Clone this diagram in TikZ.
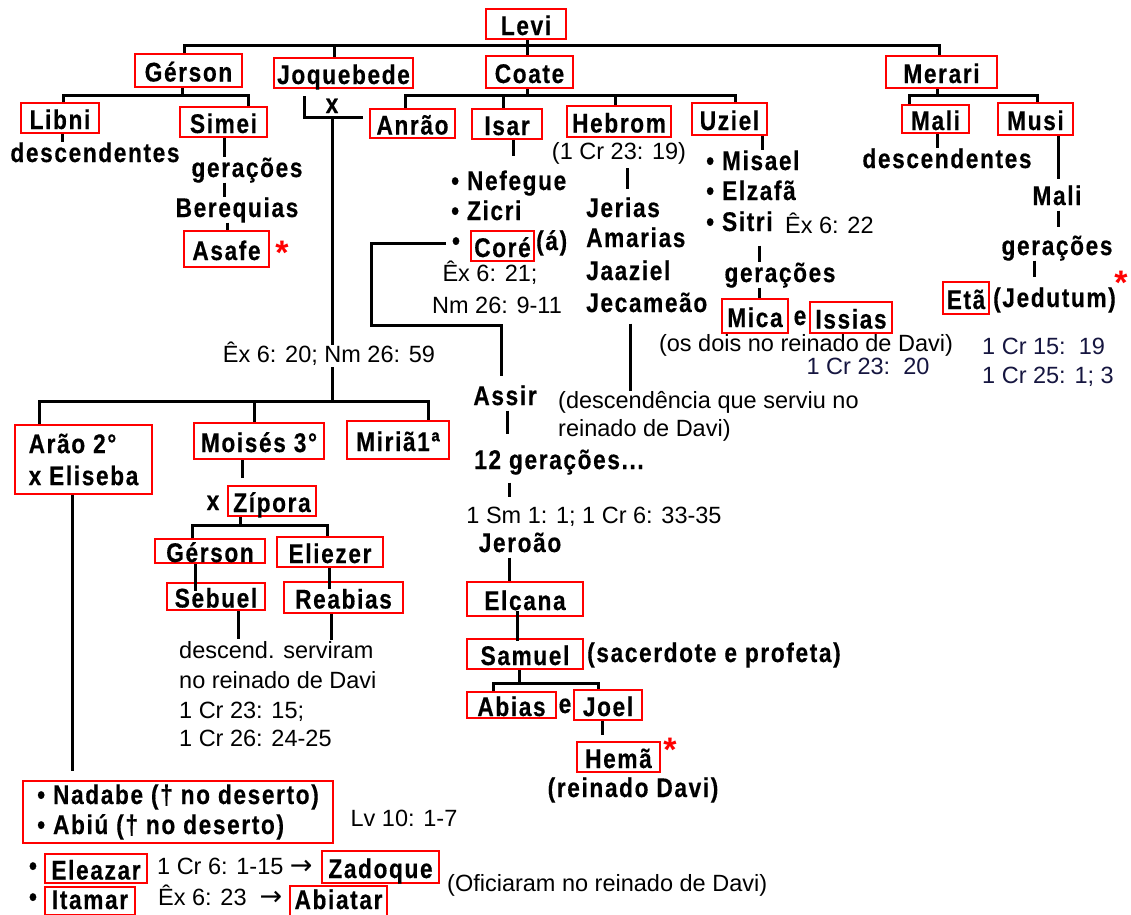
\documentclass[tikz,border=0pt]{standalone}
\usepackage{fontspec}
\newfontfamily\bfnt{Liberation Sans}[FakeStretch=0.84,LetterSpace=6,BoldFeatures={FakeBold=0.4}]
\newfontfamily\rfnt{Liberation Sans}
\newfontfamily\afnt{DejaVu Sans}
\newcommand\myB{\bfnt\bfseries\fontsize{27}{30}\selectfont}
\newcommand\myBb{\bfnt\bfseries\fontsize{27}{32}\selectfont}
\newcommand\myR{\rfnt\fontsize{23.5}{28}\selectfont}
\newcommand\myA{\rfnt\bfseries\fontsize{34}{34}\selectfont}
\newcommand\arr{{\afnt\fontsize{27}{27}\selectfont →}}
\definecolor{mynavy}{RGB}{22,22,64}
\tikzset{
  bxm/.style 2 args={draw=red,line width=1.6pt,inner sep=0pt,font=\myB,minimum width=#1,minimum height=#2},
  bx/.style 2 args={bxm={#1}{#2},text height=22pt,text depth=0pt},
  bt/.style={inner sep=0pt,font=\myB,text height=19.5pt,text depth=5.5pt},
  rt/.style={inner sep=0pt,font=\myR,text height=17pt,text depth=5pt},
  nt/.style={inner sep=0pt,font=\myR,text=mynavy,text height=17pt,text depth=5pt},
  ast/.style={inner sep=0pt,font=\myA,text=red,anchor=base},
  ln/.style={line width=3pt,black}
}
\begin{document}
\begin{tikzpicture}[x=1pt,y=-1pt]
\fill[white] (0,0) rectangle (1131,914);
\clip (0,0) rectangle (1131,914);
% ---- boxes
\node[bx={80pt}{30pt}] (levi) at (526,24) {Levi};
\node[bx={107pt}{33pt}] (gerson) at (188.5,70.5) {Gérson};
\node[bx={139pt}{30pt}] (joquebede) at (343.5,73) {Joquebede};
\node[bx={87pt}{32pt}] (coate) at (529.5,72) {Coate};
\node[bx={111pt}{32pt}] (merari) at (941.5,72) {Merari};
\node[bx={78pt}{30pt}] (libni) at (60,118) {Libni};
\node[bx={87pt}{30pt}] (simei) at (223.5,122) {Simei};
\node[bx={85pt}{36pt}] (asafe) at (226.5,249) {Asafe};
\node[bx={85pt}{29pt}] (anrao) at (412.5,123.5) {Anrão};
\node[bx={70pt}{30pt}] (isar) at (507,124) {Isar};
\node[bx={104pt}{31pt}] (hebrom) at (619,121.5) {Hebrom};
\node[bx={75pt}{32pt}] (uziel) at (729.5,119) {Uziel};
\node[bx={67pt}{28pt}] (mali) at (935.5,119) {Mali};
\node[bx={75pt}{32pt}] (musi) at (1035.5,119) {Musi};
\node[bx={63pt}{30pt}] (core) at (502.5,246) {Coré};
\node[bx={66pt}{34pt}] (mica) at (755,316) {Mica};
\node[bx={82pt}{31pt}] (issias) at (851,317.5) {Issias};
\node[bx={46pt}{32pt}] (eta) at (966,298) {Etã};
\node[bxm={137pt}{69pt},font=\myBb,align=left] (arao) at (83.5,459.5) {Arão 2°\\x Eliseba};
\node[bx={130pt}{36pt}] (moises) at (259,441) {Moisés 3°};
\node[bx={102pt}{38pt}] (miria) at (398,440) {Miriã1ª};
\node[bx={88pt}{30pt}] (zipora) at (272,501) {Zípora};
\node[bx={110pt}{24pt}] (gerson2) at (210,551) {Gérson};
\node[bx={106pt}{30pt}] (eliezer) at (330,552) {Eliezer};
\node[bx={98pt}{27pt}] (sebuel) at (216,596.5) {Sebuel};
\node[bx={119pt}{31pt}] (reabias) at (343.5,597.5) {Reabias};
\node[bx={116pt}{34pt}] (elcana) at (525,599) {Elcana};
\node[bx={116pt}{30pt}] (samuel) at (525,654) {Samuel};
\node[bx={89pt}{26pt}] (abias) at (511.5,705) {Abias};
\node[bx={68pt}{30pt}] (joel) at (608,705) {Joel};
\node[bx={83pt}{30pt}] (hema) at (618.5,757) {Hemã};
\node[bxm={310pt}{62pt},align=left] (nadabe) at (178,812) {• Nadabe († no deserto)\\• Abiú († no deserto)};
\node[bx={102pt}{29pt}] (eleazar) at (96,868.5) {Eleazar};
\node[bx={117pt}{32pt}] (zadoque) at (380.5,867) {Zadoque};
\node[bx={90pt}{28pt},text height=16pt] (itamar) at (90,901) {Itamar};
\node[bx={97pt}{30pt},text height=16pt] (abiatar) at (338.5,901) {Abiatar};
% ---- bold texts
\node[bt] (desc1) at (95,155) {descendentes};
\node[bt] (ger1) at (247,170) {gerações};
\node[bt] (bereq) at (237,210) {Berequias};
\node[bt] (xj) at (332,106) {x};
\node[bt,anchor=west] (nef) at (451,183) {• Nefegue};
\node[bt,anchor=west] (zic) at (451,213) {• Zicri};
\node[bt] (corebul) at (456,243) {•};
\node[bt,anchor=west] (coreacc) at (536,243) {(á)};
\node[bt,anchor=west] (jerias) at (586,210) {Jerias};
\node[bt,anchor=west] (amarias) at (586,240) {Amarias};
\node[bt,anchor=west] (jaaziel) at (586,273) {Jaaziel};
\node[bt,anchor=west] (jecameao) at (586,305) {Jecameão};
\node[bt,anchor=west] (misael) at (706,163) {• Misael};
\node[bt,anchor=west] (elzafa) at (706,193) {• Elzafã};
\node[bt,anchor=west] (sitri) at (706,224) {• Sitri};
\node[bt] (ger2) at (780,275) {gerações};
\node[bt] (e1) at (800,318) {e};
\node[bt] (desc2) at (947,161) {descendentes};
\node[bt] (mali2) at (1057,198) {Mali};
\node[bt] (ger3) at (1057,248) {gerações};
\node[bt,anchor=west] (jedutum) at (993,300) {(Jedutum)};
\node[bt] (assir) at (505,398) {Assir};
\node[bt] (ger12) at (559,462) {12 gerações...};
\node[bt] (jeroao) at (520,545) {Jeroão};
\node[bt,anchor=west] (sacerdote) at (587,655) {(sacerdote e profeta)};
\node[bt] (e2) at (565,706) {e};
\node[bt] (reinado) at (633,790) {(reinado Davi)};
\node[bt] (xz) at (213,503) {x};
\node[bt] (b3) at (33,868) {•};
\node[bt] (b4) at (33,899) {•};
% ---- regular texts
\node[rt] (cr2319) at (619,153) {(1 Cr 23: 19)};
\node[rt] (ex621) at (490,275) {Êx 6: 21;};
\node[rt] (nm2691) at (497,307) {Nm 26: 9-11};
\node[rt,anchor=west] (descserv) at (558,402) {(descendência que serviu no};
\node[rt,anchor=west] (descserv2) at (558,430) {reinado de Davi)};
\node[rt,anchor=west] (ex622) at (785,227) {Êx 6: 22};
\node[rt] (osdois) at (806,345) {(os dois no reinado de Davi)};
\node[rt] (ex620) at (329,356) {Êx 6: 20; Nm 26: 59};
\node[rt] (sm) at (594,517) {1 Sm 1: 1; 1 Cr 6: 33-35};
\node[rt,anchor=west] (ds1) at (179,652) {descend. serviram};
\node[rt,anchor=west] (ds2) at (179,682) {no reinado de Davi};
\node[rt,anchor=west] (ds3) at (179,712) {1 Cr 23: 15;};
\node[rt,anchor=west] (ds4) at (179,740) {1 Cr 26: 24-25};
\node[rt] (lv) at (404,820) {Lv 10: 1-7};
\node[rt,anchor=west] (cr615) at (157,868) {1 Cr 6: 1-15 \arr};
\node[rt,anchor=west] (ex623) at (158,899) {Êx 6: 23\ \ \arr};
\node[rt,anchor=west] (ofic) at (447,885) {(Oficiaram no reinado de Davi)};
\node[nt] (cr2320) at (868,368) {1 Cr 23:\ \ 20};
\node[nt,anchor=west] (cr1519) at (982,348) {1 Cr 15:\ \ 19};
\node[nt,anchor=west] (cr2513) at (982,377) {1 Cr 25: 1; 3};
% ---- asterisks
\node[ast] (ast1) at (282,264) {*};
\node[ast] (ast2) at (1121,294) {*};
\node[ast] (ast3) at (670,761) {*};
% ---- connectors
\coordinate (jq1) at (304,96);
\coordinate (jq2) at (363,117);
\coordinate (mar) at (332,117);
\begin{scope}[ln]
\draw (levi.south -| 527,0) -- (coate.north -| 527,0);
\draw (gerson.north -| 184,0) -- (184,45) -- (939,45) -- (merari.north -| 939,0);
\draw (334,45) -- (joquebede.north -| 334,0);
\draw (gerson.south -| 182,0) -- (182,95);
\draw (libni.north -| 63,0) -- (63,95) -- (248,95) -- (simei.north -| 248,0);
\draw (libni.south -| 62,0) -- (desc1.north -| 62,0);
\draw (simei.south -| 224,0) -- (ger1.north -| 224,0);
\draw (ger1.south -| 224,0) -- (bereq.north -| 224,0);
\draw (bereq.south -| 227,0) -- (asafe.north -| 227,0);
\draw (jq1) |- (jq2);
\draw (mar) -- (ex620.north -| mar);
\draw (ex620.south -| 332,0) -- (332,401);
\draw (arao.north -| 39,0) -- (39,401) -- (428,401) -- (miria.north -| 428,0);
\draw (254,401) -- (moises.north -| 254,0);
\draw (arao.south -| 72,0) -- ++(0,276);
\draw (moises.south -| 242,0) -- ++(0,18);
\draw (zipora.south -| 240,0) -- (240,525);
\draw (gerson2.north -| 192,0) -- (192,525) -- (327,525) -- (eliezer.north -| 327,0);
\draw (gerson2.south -| 195,0) -- ++(0,27);
\draw (eliezer.south -| 329,0) -- ++(0,21);
\draw (sebuel.south -| 238,0) -- ++(0,28);
\draw (reabias.south -| 331,0) -- ++(0,26);
\draw (coate.south -| 527,0) -- (527,95);
\draw (anrao.north -| 405,0) -- (405,95) -- (735,95) -- (uziel.north -| 735,0);
\draw (503,95) -- (isar.north -| 503,0);
\draw (615,95) -- (hebrom.north -| 615,0);
\draw (isar.south -| 513,0) -- ++(0,16);
\draw[shorten <=4pt,shorten >=8pt] (cr2319.south -| 627,0) -- (jerias.north -| 627,0);
\draw (uziel.south -| 762,0) -- (misael.north -| 762,0);
\draw[shorten <=9pt] (sitri.south -| 759,0) -- (ger2.north -| 759,0);
\draw (ger2.south -| 759,0) -- (mica.north -| 759,0);
\draw (merari.south -| 937,0) -- (937,95);
\draw (mali.north -| 909,0) -- (909,95) -- (1037,95) -- (musi.north -| 1037,0);
\draw (mali.south -| 937,0) -- (desc2.north -| 937,0);
\draw[shorten >=6pt] (musi.south -| 1058,0) -- (mali2.north -| 1058,0);
\draw[shorten >=8pt] (mali2.south -| 1058,0) -- (ger3.north -| 1058,0);
\draw[shorten >=10pt] (ger3.south -| 1034,0) -- (jedutum.north -| 1034,0);
\draw[shorten <=6pt,shorten >=9pt] (corebul.west) -| (371,325) -| (assir.north -| 501,0);
\draw[shorten >=15pt] (assir.south -| 507,0) -- (ger12.north -| 507,0);
\draw[shorten <=8pt,shorten >=9pt] (ger12.south -| 509,0) -- (sm.north -| 509,0);
\draw (jeroao.south -| 509,0) -- (elcana.north -| 509,0);
\draw[shorten <=-6pt,shorten >=-3pt] (elcana.south -| 517,0) -- (samuel.north -| 517,0);
\draw (samuel.south -| 519,0) -- (519,683);
\draw (abias.north -| 493,0) -- (493,683) -- (598,683) -- (joel.north -| 598,0);
\draw[shorten >=6pt] (joel.south -| 602,0) -- (hema.north -| 602,0);
\draw[shorten <=6pt] (jecameao.south -| 630,0) -- (descserv.north -| 630,0);
\end{scope}
\end{tikzpicture}
\end{document}
